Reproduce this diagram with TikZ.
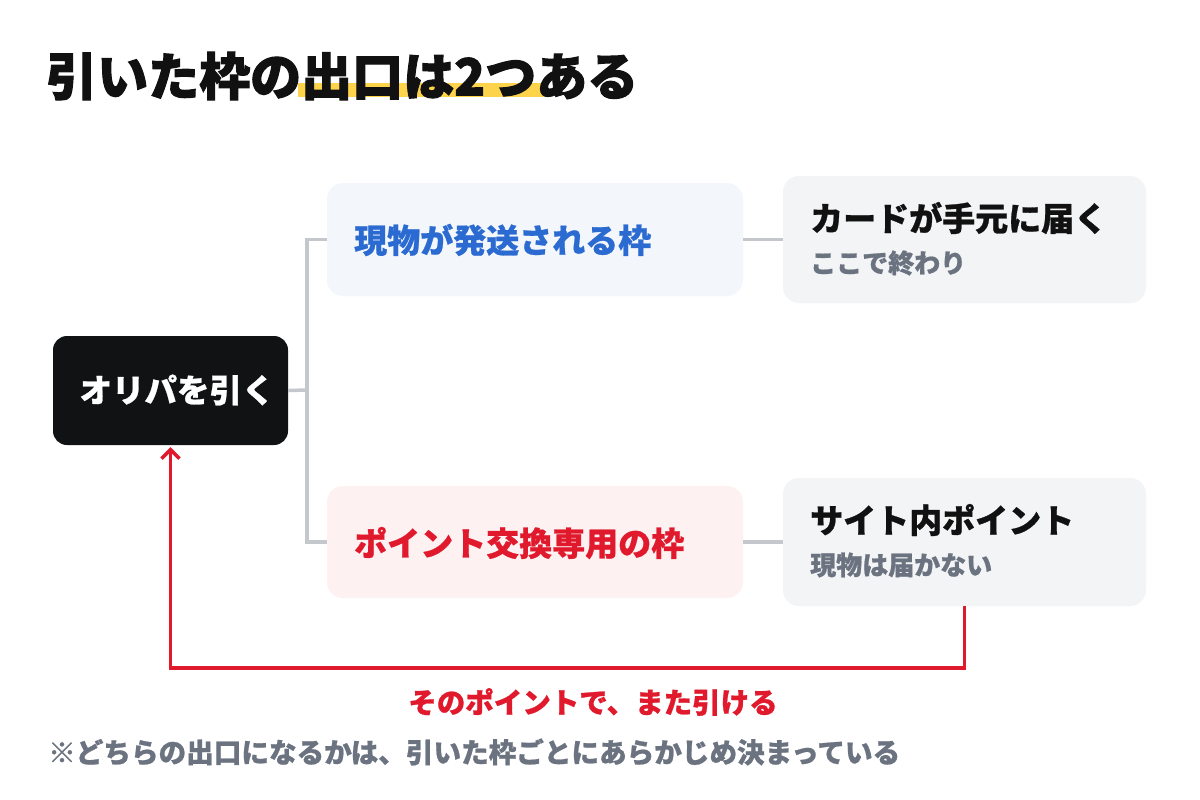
\documentclass[tikz,border=0pt]{standalone}
\usepackage{fontspec}
\setmainfont{Noto Sans CJK JP}[BoldFeatures={FakeBold=0.8}]
\newfontfamily\heavy{Noto Sans CJK JP}[BoldFeatures={FakeBold=2}]
\usetikzlibrary{arrows.meta}
\definecolor{rootbg}{HTML}{111214}
\definecolor{bluetx}{HTML}{2B6BD1}
\definecolor{bluebg}{HTML}{F3F7FC}
\definecolor{redtx}{HTML}{E0192D}
\definecolor{pinkbg}{HTML}{FEF1F2}
\definecolor{graybg}{HTML}{F3F4F6}
\definecolor{graytx}{HTML}{6B7280}
\definecolor{conn}{HTML}{C4C7CC}
\definecolor{hilite}{HTML}{FDD34C}
\definecolor{ink}{HTML}{111111}
\begin{document}
\begin{tikzpicture}[x=1pt,y=-1pt,
  box/.style={rounded corners=16pt, inner sep=0pt, draw=none},
  connline/.style={draw=conn, line width=3.5pt},
  backline/.style={draw=redtx, line width=3.5pt},
  lbl/.style={anchor=west, inner sep=0pt, font=\bfseries}
]
\useasboundingbox (0,0) rectangle (1200,800);
\fill[white] (0,0) rectangle (1200,800);

% title
\fill[hilite] (298,83) rectangle (545,97);
\node[lbl, text=ink, font=\fontsize{51}{51}\selectfont\heavy\bfseries] (title) at (46,76) {引いた枠の出口は2つある};

% boxes
\node[box, fill=rootbg, rounded corners=14pt, minimum width=235pt, minimum height=109pt] (root) at (170.5,390.5) {};
\node[box, fill=bluebg, minimum width=416pt, minimum height=113pt] (m1) at (535,239.5) {};
\node[box, fill=pinkbg, minimum width=416pt, minimum height=112pt] (m2) at (535,542) {};
\node[box, fill=graybg, minimum width=363pt, minimum height=127pt] (r1) at (964.5,239.5) {};
\node[box, fill=graybg, minimum width=363pt, minimum height=128pt] (r2) at (964.5,542) {};

% texts
\node[inner sep=0pt, text=white, font=\fontsize{32.5}{32.5}\selectfont\bfseries] (roott) at (177,390) {オリパを引く};
\node[lbl, text=bluetx, font=\fontsize{33}{33}\selectfont\bfseries] (m1t) at (354,240) {現物が発送される枠};
\node[lbl, text=redtx, font=\fontsize{33}{33}\selectfont\bfseries] (m2t) at (354,543) {ポイント交換専用の枠};
\node[lbl, text=ink, font=\fontsize{33}{33}\selectfont\bfseries] (r1t) at (810,218) {カードが手元に届く};
\node[lbl, text=graytx, font=\fontsize{26}{26}\selectfont\bfseries] (r1s) at (810,263) {ここで終わり};
\node[lbl, text=ink, font=\fontsize{33}{33}\selectfont\bfseries] (r2t) at (810,520) {サイト内ポイント};
\node[lbl, text=graytx, font=\fontsize{26}{26}\selectfont\bfseries] (r2s) at (810,565) {現物は届かない};

% connectors
\coordinate (j) at (307,390);
\draw[connline] (root.east) -- (j);
\draw[connline] (m1.west) -| (j) |- (m2.west);
\draw[connline] (m1.east) -- (r1.west);
\draw[connline] (m2.east) -- (r2.west);

% return arrow
\draw[backline, -{Straight Barb[length=9pt,width=18pt]}, shorten >=2pt] (r2.south) -- ++(0,62) -| (root.south);
\node[inner sep=0pt, text=redtx, font=\fontsize{28.5}{28.5}\selectfont\bfseries] (back) at (593,702) {そのポイントで、また引ける};

% footnote
\node[lbl, text=graytx, font=\fontsize{27.6}{27.6}\selectfont\bfseries] (note) at (48,752) {※どちらの出口になるかは、引いた枠ごとにあらかじめ決まっている};
\end{tikzpicture}
\end{document}
